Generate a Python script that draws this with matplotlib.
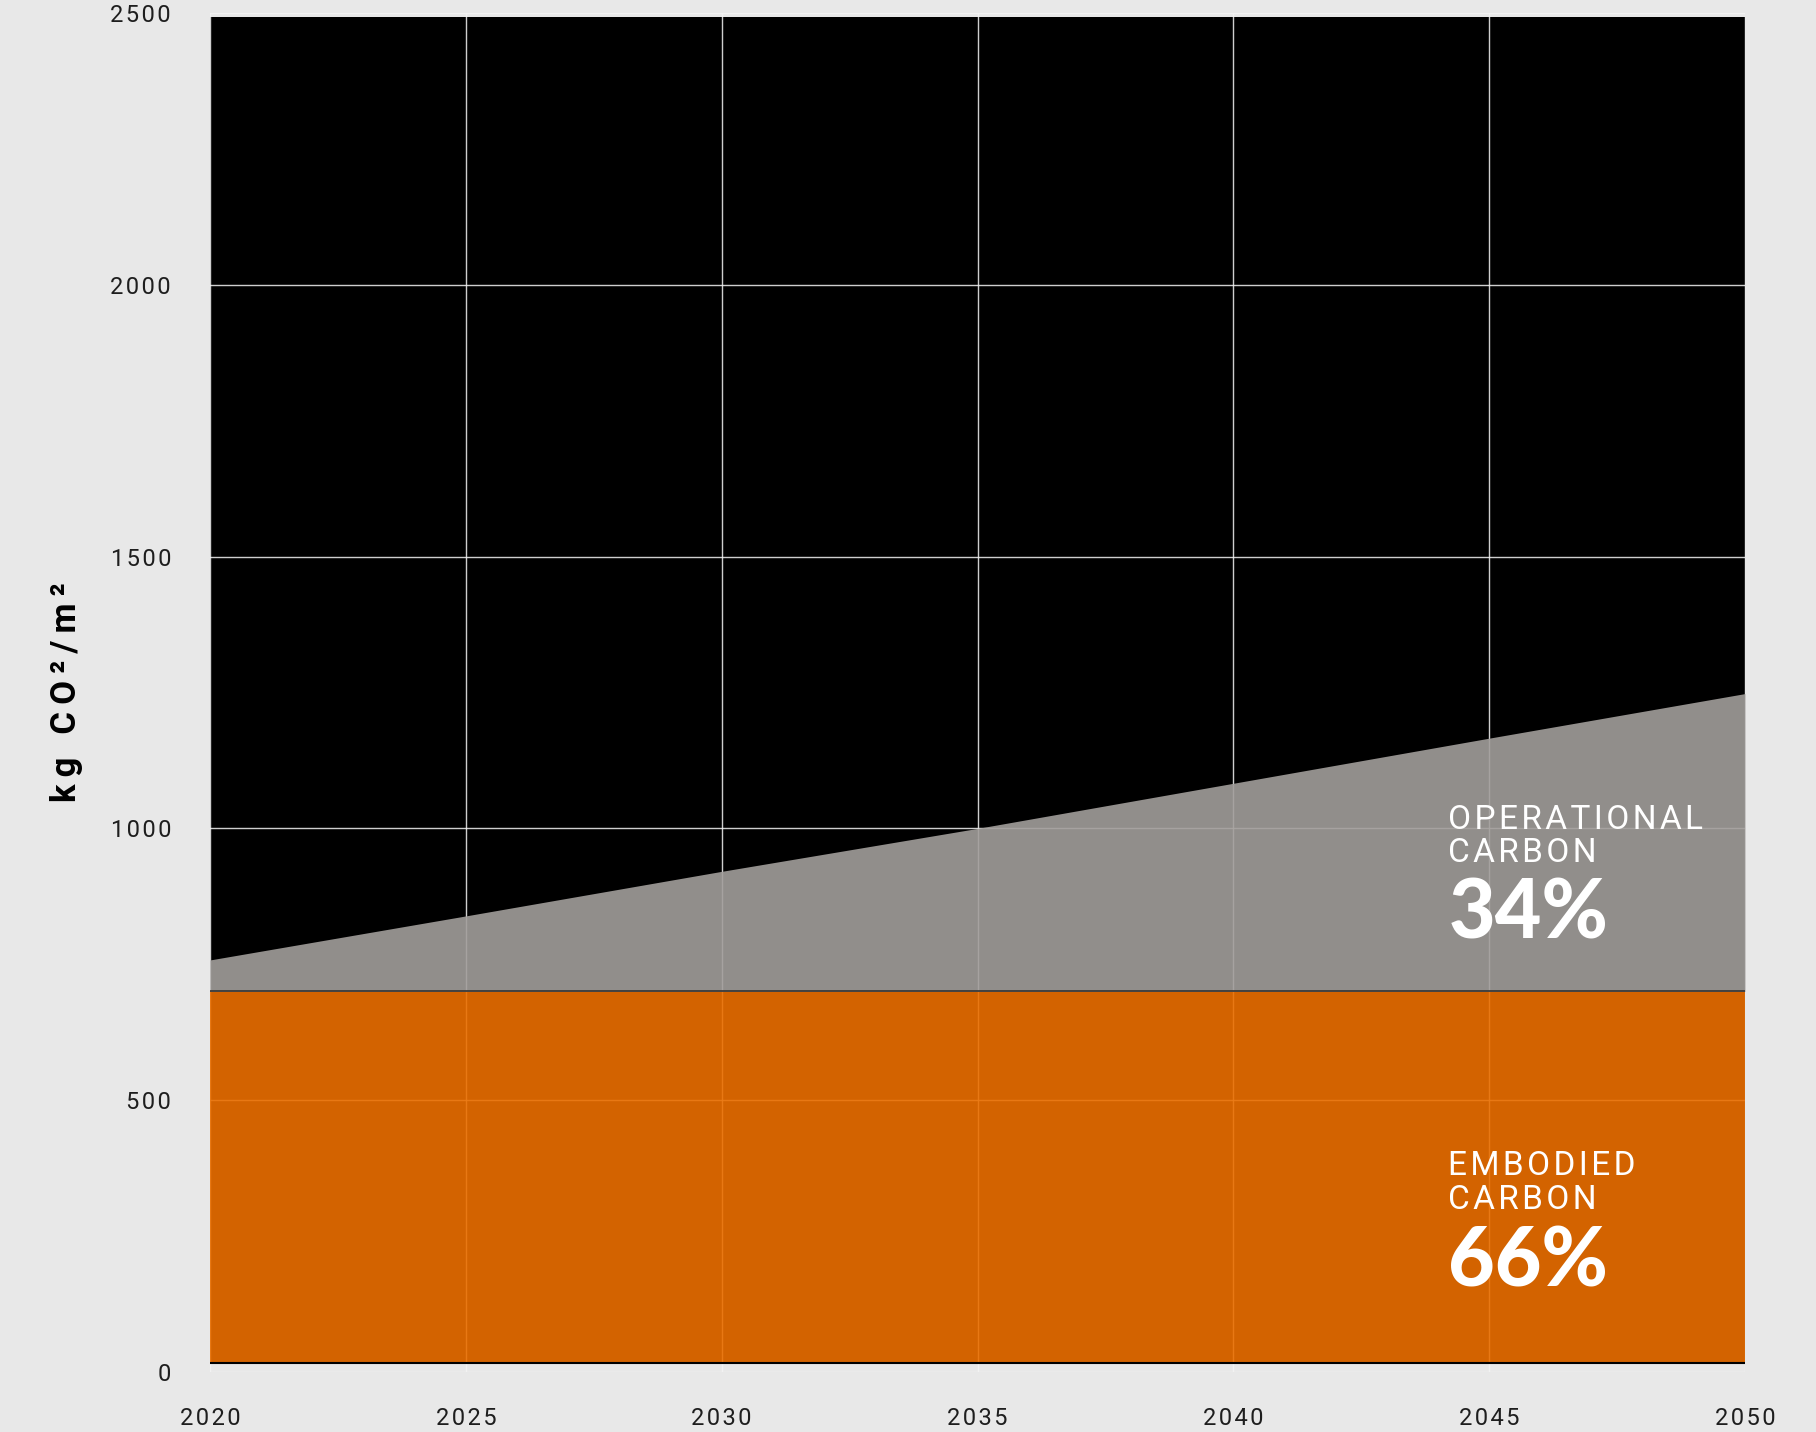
import matplotlib
matplotlib.use("Agg")
import matplotlib.pyplot as plt
import numpy as np

years = [2020, 2025, 2030, 2035, 2040, 2045, 2050]
base = [17, 17, 17, 17, 17, 17, 17]
embodied = [700, 700, 700, 700, 700, 700, 700]
total = [758, 839, 921, 1000, 1083, 1166, 1248]
top = [2493, 2493, 2493, 2493, 2493, 2493, 2493]
y_ticks = [0, 500, 1000, 1500, 2000, 2500]
x_ticks = [2020, 2025, 2030, 2035, 2040, 2045, 2050]
op_label = ["OPERATIONAL", "CARBON"]
emb_label = ["EMBODIED", "CARBON"]
op_pct = "34%"
emb_pct = "66%"

BG = "#e8e8e8"
ORANGE = "#eb6f00"
GRAY = "#a29e9b"
HS = "\u200a"
TS = "\u2009"

def spaced(s, sep=HS):
    return sep.join(list(s))

fig = plt.figure(figsize=(18.16, 14.32), dpi=100, facecolor=BG)
ax = fig.add_axes([210/1816, 60/1432, 1535/1816, 1359/1432])
ax.set_facecolor(BG)

ax.set_xlim(2020, 2050)
ax.set_ylim(0, 2500)

ax.grid(True, color="#f4f4f4", linewidth=1.0, zorder=0.5, alpha=0.85)
ax.set_axisbelow(True)

ax.fill_between(years, base, top, color="black", linewidth=0, zorder=0.2)
ax.fill_between(years, base, embodied, color=ORANGE, alpha=0.9, linewidth=0, zorder=2)
ax.fill_between(years, embodied, total, color=GRAY, alpha=0.9, linewidth=0, zorder=2)
ax.plot(years, embodied, color="#333333", linewidth=1.2, zorder=3)
ax.plot(years, base, color="black", linewidth=1.5, zorder=3)

for s in ax.spines.values():
    s.set_visible(False)

ax.set_xticks(x_ticks)
ax.set_yticks(y_ticks)
ax.set_xticklabels([spaced(str(v)) for v in x_ticks])
ax.set_yticklabels([spaced(str(v)) for v in y_ticks])
ax.tick_params(axis="both", length=0, colors="#1e1e1e", labelsize=17)
ax.tick_params(axis="y", pad=28)
ax.tick_params(axis="x", pad=25)
for lab in ax.get_xticklabels() + ax.get_yticklabels():
    lab.set_fontfamily(["Roboto", "DejaVu Sans"])
    lab.set_fontweight("normal")

ax.set_ylabel(spaced("kg CO²/m²", TS), fontsize=25, fontweight="bold",
              family=["Roboto", "DejaVu Sans"], color="black")
ax.yaxis.set_label_coords(-0.083, 0.5)

tx = 2044.2
small_kw = dict(fontsize=24, color="white", family=["Roboto", "DejaVu Sans"],
                fontweight="normal", va="baseline", ha="left", zorder=5)
big_kw = dict(fontsize=58, color="white", family=["Lato", "DejaVu Sans"],
              fontweight="black", va="baseline", ha="left", zorder=5)

ax.text(tx, 999, spaced(op_label[0], HS), **small_kw)
ax.text(tx, 938, spaced(op_label[1], HS), **small_kw)
ax.text(tx, 797, op_pct, **big_kw)
ax.text(tx, 362, spaced(emb_label[0], HS), **small_kw)
ax.text(tx, 300, spaced(emb_label[1], HS), **small_kw)
ax.text(tx, 158, emb_pct, **big_kw)

fig.savefig("out.png", dpi=100, facecolor=BG)
